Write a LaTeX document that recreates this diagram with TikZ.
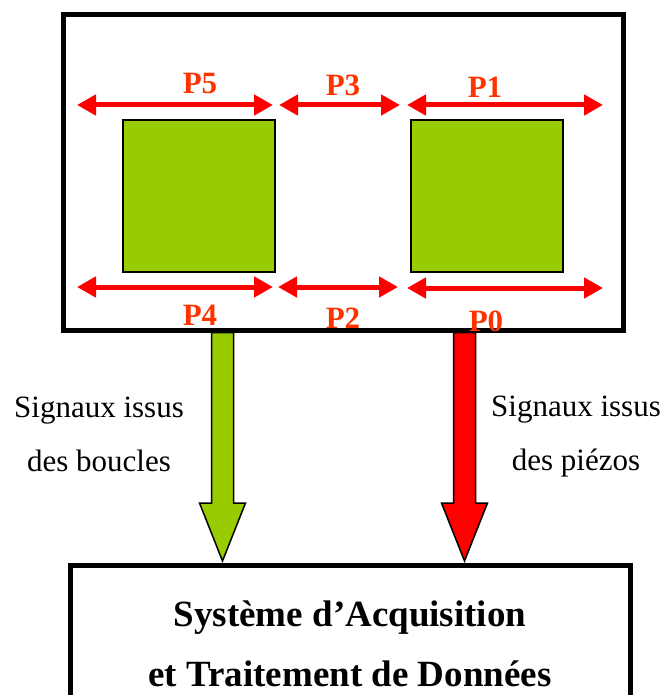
\documentclass[tikz,border=0pt]{standalone}
\usepackage{fontspec}
\setmainfont{Liberation Serif}
\usetikzlibrary{arrows.meta,calc}
\definecolor{vertb}{HTML}{99CC00}
\definecolor{rougef}{HTML}{FF0000}
\definecolor{rougep}{HTML}{FF3300}
\newcommand{\grossefleche}[3]{%
  \filldraw[fill=#3,draw=black,line width=1.5pt,line join=miter]
    ($(#1)+(-11,0)$) -- ($(#2)+(-11,-58)$) -- ($(#2)+(-23,-58)$) -- (#2)
    -- ($(#2)+(23,-58)$) -- ($(#2)+(11,-58)$) -- ($(#1)+(11,0)$) -- cycle;}

\begin{document}
\begin{tikzpicture}[x=1pt,y=-1pt,
  cadre/.style={draw,line width=5pt,inner sep=0pt},
  boucle/.style={draw,fill=vertb,line width=1.5pt,minimum size=152pt,inner sep=0pt},
  piezo/.style={{Triangle[length=19pt,width=20pt]}-{Triangle[length=19pt,width=20pt]},line width=5pt,rougef},
  plabel/.style={text=rougep,font=\fontsize{31}{31}\selectfont\bfseries,inner sep=0pt},
  signal/.style={align=center,font=\fontsize{31}{54}\selectfont,inner sep=0pt}]
  \useasboundingbox (0,0) rectangle (665,695);
  \clip (0,0) rectangle (665,695);
  \node[cadre,minimum width=560pt,minimum height=315pt] (capteur) at (343,172.5) {};
  \node[boucle] (boucleA) at (199,196) {};
  \node[boucle] (boucleB) at (487,196) {};
  \foreach \nom/\xa/\xb/\ya/\xl/\yl in {P5/77/273/105/200/84, P3/279/400/105/343/85, P1/407/603/105/485/87,
    P4/77/273/287/200/315, P2/278/398/287/343/318, P0/407/603/288/486/321}{
    \coordinate (\nom g) at (\xa,\ya);
    \coordinate (\nom d) at (\xb,\ya);
    \draw[piezo] (\nom g) -- (\nom d);
    \node[plabel] (\nom) at (\xl,\yl) {\nom};
  }
  \node[cadre,minimum width=560pt,minimum height=158pt,align=center,
    font=\fontsize{37}{60}\selectfont\bfseries] (daq) at (350,644)
    {Système d’Acquisition\\et Traitement de Données};
  \coordinate (gdep) at ($(capteur.south)+(-120.5,0)$);
  \coordinate (gfin) at ($(daq.north)+(-127.5,-1.5)$);
  \coordinate (rdep) at ($(capteur.south)+(121.5,0)$);
  \coordinate (rfin) at ($(daq.north)+(114.5,-1.5)$);
  \grossefleche{gdep}{gfin}{vertb}
  \grossefleche{rdep}{rfin}{rougef}
  \node[signal] (boucles) at (99,434) {Signaux issus\\des boucles};
  \node[signal] (piezos) at (576,437) {Signaux issus\\des piézos};
\end{tikzpicture}
\end{document}
